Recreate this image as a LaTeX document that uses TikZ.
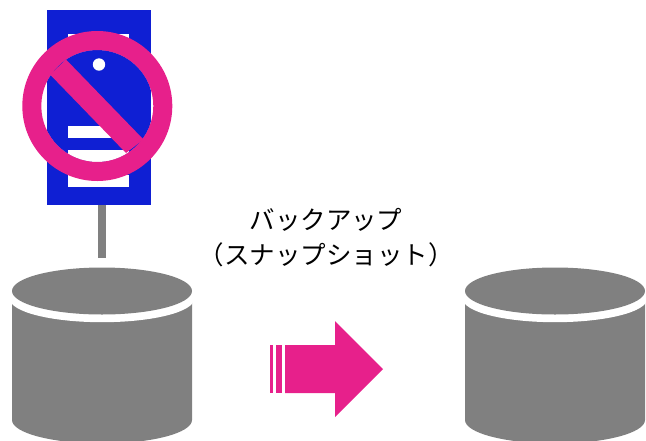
\documentclass[tikz,border=0pt]{standalone}
\usepackage{fontspec}
\newfontfamily\cjk{Noto Sans CJK JP}
\definecolor{srvblue}{HTML}{0F1FD3}
\definecolor{pinkc}{HTML}{E7208B}
\definecolor{greyc}{HTML}{808080}
\tikzset{
  srv/.style={fill=srvblue},
  wht/.style={fill=white},
  pnk/.style={fill=pinkc},
  gry/.style={fill=greyc},
  cyl/.pic={
    \fill[gry] (12,299) -- (12,420) arc[start angle=180,end angle=0,x radius=90,y radius=23.5] -- (192,299) -- cycle;
    \fill[wht] (102,299) ellipse[x radius=92,y radius=23.2];
    \fill[gry] (102,291) ellipse[x radius=90,y radius=23.5];
  }
}
\begin{document}
\begin{tikzpicture}[x=1pt,y=-1pt]
\useasboundingbox (0,0) rectangle (646,440);
\begin{scope}
\clip (0,0) rectangle (646,440);
\pic at (0,0) {cyl};
\pic at (453,0) {cyl};
\end{scope}
% server
\fill[gry] (98.3,205) rectangle (106,258);
\fill[srv] (47,10) rectangle (151,205);
\fill[wht] (68,34) rectangle (129,46);
\fill[wht] (68,126) rectangle (129,138);
\fill[wht] (68,150) rectangle (129,162);
\fill[wht] (68,175) rectangle (129,187);
\fill[wht] (99,64.5) circle[radius=6.2];
% prohibition sign
\fill[wht] (97.3,106) circle[radius=56] ;
\begin{scope}
\clip (97.3,106) circle[radius=56];
\fill[srv] (47,10) rectangle (151,205);
\fill[wht] (99,64.5) circle[radius=6.2];
\fill[wht] (68,126) rectangle (129,138);
\fill[wht] (68,150) rectangle (129,162);
\fill[wht] (68,175) rectangle (129,187);
\end{scope}
\fill[pnk,even odd rule] (97.3,106) circle[radius=75] (97.3,106) circle[radius=56];
\fill[pnk] (50,74.5) -- (66,59.5) -- (143.5,139.5) -- (126,153) -- cycle;
% arrow
\fill[pnk] (270,345) rectangle (273,393);
\fill[pnk] (276,345) rectangle (282,393);
\fill[pnk] (285,345) -- (335,345) -- (335,321) -- (383,369) -- (335,417) -- (335,393) -- (285,393) -- cycle;
% label
\node[font=\cjk\fontsize{25.5}{35}\selectfont,align=center,inner sep=0pt,text=black] (lbl) at (326,238) {バックアップ\\（スナップショット）};
\end{tikzpicture}
\end{document}
